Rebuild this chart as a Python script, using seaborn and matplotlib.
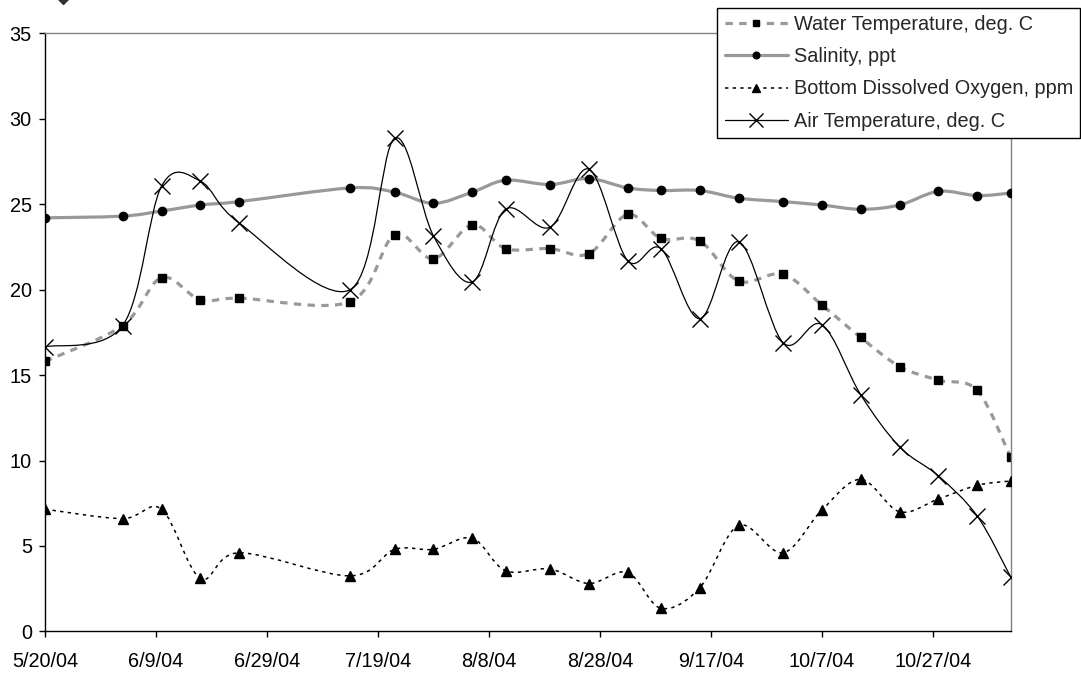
import numpy as np
import pandas as pd
import matplotlib
matplotlib.use("Agg")
import matplotlib.pyplot as plt
import matplotlib.dates as mdates
from matplotlib.path import Path
from matplotlib.patches import PathPatch
from matplotlib.lines import Line2D
import seaborn as sns

# =========================
# DATA
# =========================

dates = ["5/20/04", "6/3/04", "6/10/04", "6/17/04", "6/24/04", "7/14/04", "7/22/04",
         "7/29/04", "8/5/04", "8/11/04", "8/19/04", "8/26/04", "9/2/04", "9/8/04",
         "9/15/04", "9/22/04", "9/30/04", "10/7/04", "10/14/04", "10/21/04",
         "10/28/04", "11/4/04", "11/10/04"]

water_temp = [15.8, 17.9, 20.7, 19.4, 19.5, 19.3, 23.2, 21.8, 23.8, 22.4, 22.4, 22.1,
              24.4, 23.0, 22.85, 20.5, 20.9, 19.1, 17.2, 15.5, 14.7, 14.1, 10.2]

salinity = [24.2, 24.3, 24.6, 24.95, 25.15, 25.95, 25.7, 25.05, 25.7, 26.4, 26.15, 26.5,
            25.95, 25.8, 25.8, 25.35, 25.15, 24.95, 24.7, 24.95, 25.75, 25.5, 25.65]

bottom_do = [7.15, 6.6, 7.15, 3.1, 4.6, 3.25, 4.8, 4.8, 5.45, 3.55, 3.65, 2.8,
             3.45, 1.35, 2.55, 6.2, 4.6, 7.1, 8.9, 7.0, 7.75, 8.55, 8.8]

air_temp = [16.65, 17.9, 26.05, 26.35, 23.9, 20.0, 28.85, 23.15, 20.45, 24.7, 23.65, 27.05,
            21.7, 22.4, 18.3, 22.8, 16.9, 17.95, 13.85, 10.8, 9.1, 6.75, 3.2]

labels = ["Water Temperature, deg. C", "Salinity, ppt",
          "Bottom Dissolved Oxygen, ppm", "Air Temperature, deg. C"]

tick_dates = ["5/20/04", "6/9/04", "6/29/04", "7/19/04", "8/8/04",
              "8/28/04", "9/17/04", "10/7/04", "10/27/04"]

df = pd.DataFrame({
    "date": pd.to_datetime(dates, format="%m/%d/%y"),
    "water": water_temp,
    "salinity": salinity,
    "do": bottom_do,
    "air": air_temp,
})
xnum = mdates.date2num(df["date"])


# Excel-style smoothed line (bezier through the points)
def smooth_path(x, y):
    pts = np.column_stack([x, y])
    n = len(pts)
    verts = [pts[0]]
    codes = [Path.MOVETO]
    for i in range(n - 1):
        p0 = pts[max(i - 1, 0)]
        p1 = pts[i]
        p2 = pts[i + 1]
        p3 = pts[min(i + 2, n - 1)]
        verts += [p1 + (p2 - p0) / 6, p2 - (p3 - p1) / 6, p2]
        codes += [Path.CURVE4] * 3
    return Path(verts, codes)


# =========================
# STYLE
# =========================

sns.set_style("ticks")
plt.rcParams["font.family"] = ["Liberation Sans", "DejaVu Sans"]

GRAY = "#999999"
FS = 14.3

series = [
    # column, line color, lw, dashes, marker, marker size
    ("water", GRAY, 2.3, (0, (2.3, 2.0)), "s", 6),
    ("salinity", GRAY, 2.3, "-", "o", 6),
    ("do", "black", 1.1, (0, (2.2, 2.8)), "^", 7),
    ("air", "black", 0.9, "-", "x", 12),
]

# =========================
# FIGURE
# =========================

fig = plt.figure(figsize=(10.81, 6.75), dpi=100)
ax = fig.add_axes([0.0416, 0.0646, 0.8932, 0.8861])

handles = []
for k, (col, color, lw, ls, mk, ms) in enumerate(series):
    z = 2 + k
    patch = PathPatch(smooth_path(xnum, df[col].values), facecolor="none",
                      edgecolor=color, lw=lw, linestyle=ls, zorder=z,
                      capstyle="butt")
    ax.add_patch(patch)
    sns.lineplot(data=df, x="date", y=col, ax=ax, color="black", marker=mk,
                 markersize=ms, linestyle="none", markeredgecolor="black",
                 markerfacecolor="black", markeredgewidth=1.0, zorder=z + 0.5)
    # legend keys use slightly smaller markers, like the original
    handles.append(Line2D([], [], color=color, lw=lw, linestyle=ls, marker=mk,
                          markersize=ms * 0.8, markerfacecolor="black",
                          markeredgecolor="black", markeredgewidth=1.0))

# =========================
# AXES
# =========================

start = mdates.date2num(pd.Timestamp("2004-05-20"))
end = mdates.date2num(pd.Timestamp("2004-11-10"))
ax.set_xlim(start, end)
ax.set_ylim(0, 35)
ax.set_yticks(range(0, 36, 5))

tick_pos = mdates.date2num(pd.to_datetime(tick_dates, format="%m/%d/%y"))
ax.set_xticks(tick_pos)
ax.set_xticklabels(tick_dates)
ax.set_xlabel("")
ax.set_ylabel("")

ax.tick_params(axis="both", direction="out", length=4.5, width=1, colors="black",
               labelsize=FS)
ax.tick_params(axis="x", pad=10.5)
ax.tick_params(axis="y", pad=5)

for side in ["left", "bottom"]:
    ax.spines[side].set_color("black")
    ax.spines[side].set_linewidth(1)
for side in ["top", "right"]:
    ax.spines[side].set_visible(True)
    ax.spines[side].set_color("#808080")
    ax.spines[side].set_linewidth(1)

leg = fig.legend(handles, labels, loc="upper right", bbox_to_anchor=(0.9995, 0.988),
                 bbox_transform=fig.transFigure, fontsize=FS, frameon=True,
                 fancybox=False, edgecolor="black", framealpha=1, borderpad=0.36,
                 labelspacing=0.66, handlelength=3.2, handletextpad=0.3,
                 borderaxespad=0, numpoints=1)
leg.get_frame().set_linewidth(1)

# cut-off marker in the top left corner
fig.add_artist(Line2D([63 / 1081], [1.004], transform=fig.transFigure, marker="D",
                      markersize=7, color="#333333", linestyle="none", clip_on=False))

fig.savefig("out.png", dpi=100)
